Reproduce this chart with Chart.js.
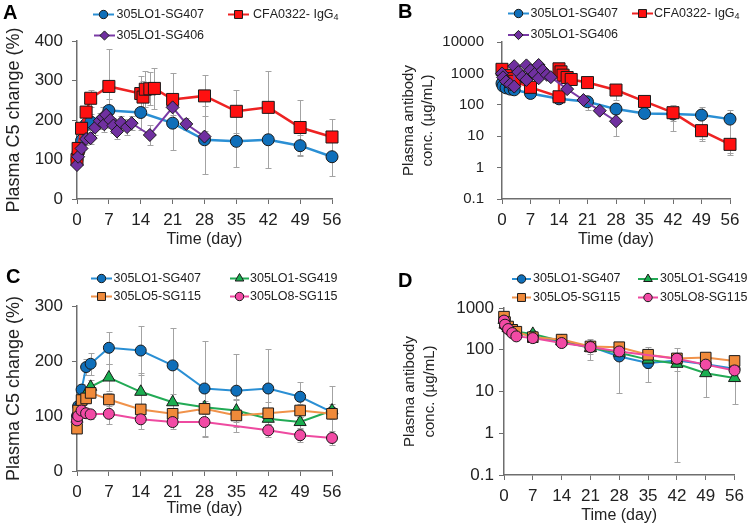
<!DOCTYPE html>
<html><head><meta charset="utf-8">
<script src="https://cdn.jsdelivr.net/npm/chart.js@4/dist/chart.umd.min.js"></script>
<style>
html,body{margin:0;padding:0;background:#fff;}
#wrap{position:relative;width:750px;height:528px;overflow:hidden;}
canvas{position:absolute;}
</style></head><body>
<div id="wrap">
<canvas id="cA" width="375" height="264" style="left:0;top:0"></canvas>
<canvas id="cB" width="375" height="264" style="left:375px;top:0"></canvas>
<canvas id="cC" width="375" height="264" style="left:0;top:264px"></canvas>
<canvas id="cD" width="375" height="264" style="left:375px;top:264px"></canvas>
</div>
<script>
// ---------------- DATA ----------------
const xTicks = [0,7,14,21,28,35,42,49,56];
const yTicksA = [0,100,200,300,400];
const yTicksC = [0,100,200,300];
const yTicksB = [0.1,1,10,100,1000,10000];
const yTicksD = [0.1,1,10,100,1000];
const panelLetters = ['A','B','C','D'];
const namesTop = ['305LO1-SG407','CFA0322- IgG₄','305LO1-SG406'];
const namesBottom = ['305LO1-SG407','305LO1-SG419','305LO5-SG115','305LO8-SG115'];
const xTitle = 'Time (day)';
const yTitleC5 = 'Plasma C5 change (%)';
const yTitlePK = ['Plasma antibody','conc. (µg/mL)'];

// Panel A / C : 305LO1-SG407 C5 change
const sg407C5_day = [0,0.25,1,2,3,7,14,21,28,35,42,49,56];
const sg407C5_val = [100,118,148,189,195,224,219,192,150,146,150,135,107];
const sg407C5_err = [0,6,10,14,20,29,45,68,86,66,72,27,48];
// Panel A : CFA0322-IgG4
const cfaC5_day = [0,0.25,1,2,3,7,14,14.5,15,16,17,21,28,35,42,49,56];
const cfaC5_val = [100,128,179,220,255,285,267,258,278,279,280,252,261,222,232,181,157];
const cfaC5_err = [0,8,12,15,22,95,45,40,45,42,52,67,52,54,92,70,45];
// Panel A : 305LO1-SG406
const sg406C5_day = [0,0.25,1,2,3,4,5,5.7,6,6.4,7.3,8,8.8,9.7,11,12,16,21,24,28];
const sg406C5_val = [86,107,128,152,154,181,198,207,189,213,200,186,171,193,182,192,162,232,190,158];
const sg406C5_err = [5,8,10,15,15,18,20,25,20,22,20,18,20,18,20,18,25,20,15,15];

// Panel B : PK
const sg407PK_day = [0,0.25,1,2,3,7,14,21,28,35,42,49,56];
const sg407PK_val = [480,395,346,316,300,230,155,125,73,53,51,47,35];
const sg407PK_err = [0,0,0,0,0,30,25,55,40,15,20,40,32];
const cfaPK_day = [0,1,2,3,7,14,14,14.5,15,16,17,21,28,35,42,49,56];
const cfaPK_val = [1350,850,680,560,360,180,1400,1120,880,740,640,510,295,128,56,15,5.5];
const cfaPK_err = [0,0,0,0,0,20,0,0,0,0,0,0,150,60,41,7,3];
const sg406PK_day = [0,0.25,1,2,3,3,4,5,6,6,7,8,9,9,10,11,12,16,20,24,28];
const sg406PK_val = [1000,750,550,450,380,1700,1100,780,620,1800,1260,950,700,1850,1260,900,760,316,142,65,30];
const sg406PK_err = [0,0,0,0,0,0,0,0,0,0,0,0,0,0,0,0,0,0,0,0,20];

// Panel C : C5 change (others)
const sg419C5_day = [0,1,2,3,7,14,21,28,35,42,49,56];
const sg419C5_val = [95,128,140,153,170,144,125,116,110,95,89,110];
const sg419C5_err = [0,8,10,12,25,35,15,12,20,12,10,12];
const lo5C5_day = [0,0.25,1,2,3,7,14,21,28,35,42,49,56];
const lo5C5_val = [77,110,129,132,142,130,112,104,113,101,105,110,104];
const lo5C5_err = [0,8,10,8,10,12,10,10,10,30,20,12,10];
const lo8C5_day = [0,0.25,1,2,3,7,14,21,28,42,49,56];
const lo8C5_val = [92,100,110,105,103,104,94,89,89,74,65,60];
const lo8C5_err = [0,6,8,8,8,18,18,12,27,12,12,12];

// Panel D : PK
const pkD_day = [0,0.25,1,2,3,7,14,21,28,35,42,49,56];
const sg407D_val = [480,380,320,280,250,215,150,120,69,48,55,45,35];
const sg407D_err = [0,0,0,0,0,20,20,30,60,31,54.8,15,10];
const sg419D_val = [520,400,330,290,270,240,160,110,85,58,46,27.5,21];
const sg419D_err = [0,0,0,0,0,20,20,30,20,15,15,20,16];
const lo5D_val = [620,460,360,300,270,200,175,120,115,76,62,65,54];
const lo5D_err = [0,0,0,0,0,20,20,20,15,39,20,15,10];
const lo8D_day = [0,0.25,1,2,3,7,14,21,28,42,49,56];
const lo8D_val = [500,398,313,251,209,190,145,116,91,61,44,32];
const lo8D_err = [0,0,0,0,0,15,15,60,20,15,10,8];

// ---------------- STYLE ----------------
const FF = "'Liberation Sans', Arial, Helvetica, sans-serif";
Chart.defaults.font.family = FF;
Chart.defaults.color = '#222';
const ST = {
  blue:   {line:'#2a8fd4', fill:'#0f6fba'},
  red:    {line:'#ee2222', fill:'#ff1010'},
  purple: {line:'#7a3aa6', fill:'#7030a0'},
  green:  {line:'#22aa55', fill:'#1aae50'},
  orange: {line:'#f0924a', fill:'#f08a3a'},
  pink:   {line:'#ee4aa0', fill:'#f24aa5'}
};
const AXIS = '#6e6e6e';

function pts(xs, ys){ return xs.map((x,i)=>({x:x, y:ys[i]})); }
function series(name, xs, ys, es, c, shape, r, order, lw){
  return {label:name, data:pts(xs,ys), errors:es, borderColor:c.line, borderWidth:lw||2,
    backgroundColor:c.fill, pointStyle:shape, pointRadius:r, pointHoverRadius:r,
    pointBackgroundColor:c.fill, pointBorderColor:'#1a1a1a', pointBorderWidth:1,
    tension:0, clip:false, fill:false, order:order, legendShape:shape};
}

// ---------------- PLUGINS ----------------
const errorBars = {
  id:'errorBars',
  beforeDatasetsDraw(chart){
    const ctx = chart.ctx, xs = chart.scales.x, ys = chart.scales.y;
    const isLog = ys.type === 'logarithmic';
    ctx.save(); ctx.strokeStyle = '#a3a3a3'; ctx.lineWidth = 1;
    chart.data.datasets.forEach(ds=>{
      if(!ds.errors) return;
      ds.data.forEach((p,i)=>{
        const e = ds.errors[i]; if(!e) return;
        const px = Math.round(xs.getPixelForValue(p.x)) + 0.5;
        let lo = p.y - e, hi = p.y + e, loCap = true;
        if(isLog){ if(lo <= ys.min){ lo = ys.min; loCap = false; } }
        else if(lo < ys.min){ lo = ys.min; loCap = false; }
        const y1 = Math.round(ys.getPixelForValue(hi)) + 0.5, y2 = Math.round(ys.getPixelForValue(lo)) + 0.5;
        ctx.beginPath();
        ctx.moveTo(px, y1); ctx.lineTo(px, y2);
        ctx.moveTo(px-3, y1); ctx.lineTo(px+3, y1);
        if(loCap){ ctx.moveTo(px-3, y2); ctx.lineTo(px+3, y2); }
        ctx.stroke();
      });
    });
    ctx.restore();
  }
};

function drawMarker(ctx, shape, x, y, r, fill){
  ctx.beginPath();
  if(shape==='circle'){ ctx.arc(x,y,r,0,Math.PI*2); }
  else if(shape==='rect'){ const s=r*Math.SQRT1_2; ctx.rect(x-s,y-s,2*s,2*s); }
  else if(shape==='rectRot'){ ctx.moveTo(x-r,y); ctx.lineTo(x,y-r); ctx.lineTo(x+r,y); ctx.lineTo(x,y+r); ctx.closePath(); }
  else if(shape==='triangle'){
    let a=0; ctx.moveTo(x+Math.sin(a)*r, y-Math.cos(a)*r);
    a+=2*Math.PI/3; ctx.lineTo(x+Math.sin(a)*r, y-Math.cos(a)*r);
    a+=2*Math.PI/3; ctx.lineTo(x+Math.sin(a)*r, y-Math.cos(a)*r); ctx.closePath();
  }
  ctx.fillStyle=fill; ctx.fill(); ctx.lineWidth=1; ctx.strokeStyle='#1a1a1a'; ctx.stroke();
}
const SUB = '₀₁₂₃₄₅₆₇₈₉';
function drawRich(ctx, text, x, y, size){
  let cx = x;
  for(const ch of text){
    const k = SUB.indexOf(ch);
    if(k >= 0){
      ctx.font = (size*0.72)+'px '+FF;
      ctx.fillText(String(k), cx, y + size*0.28);
      cx += ctx.measureText(String(k)).width;
    } else {
      ctx.font = size+'px '+FF;
      ctx.fillText(ch, cx, y);
      cx += ctx.measureText(ch).width;
    }
  }
}
const customLegend = {
  id:'customLegend',
  afterDraw(chart, args, opts){
    const ctx = chart.ctx; ctx.save();
    ctx.textBaseline = 'middle'; ctx.textAlign = 'left'; ctx.fillStyle = '#222';
    (opts.items||[]).forEach(it=>{
      const ds = chart.data.datasets[it.ds];
      ctx.strokeStyle = ds.borderColor; ctx.lineWidth = 2;
      ctx.beginPath(); ctx.moveTo(it.x1, it.y); ctx.lineTo(it.x2, it.y); ctx.stroke();
      drawMarker(ctx, ds.legendShape, (it.x1+it.x2)/2, it.y, it.r, ds.pointBackgroundColor);
      ctx.fillStyle = '#222';
      drawRich(ctx, ds.label, it.tx, it.y, opts.size);
    });
    if(opts.letter){
      ctx.font = 'bold '+opts.letter.size+'px '+FF;
      ctx.fillStyle = '#000'; ctx.textBaseline='middle';
      ctx.fillText(opts.letter.text, opts.letter.x, opts.letter.y);
    }
    ctx.restore();
  }
};

// ---------------- BUILDER ----------------
function makeChart(id, cfg){
  const isLog = cfg.log;
  return new Chart(document.getElementById(id), {
    type:'line',
    data:{datasets:cfg.datasets},
    options:{
      responsive:false, animation:false, devicePixelRatio:1,
      events:[],
      layout:{padding:{left:0, top:cfg.area.top, right:375-cfg.area.right, bottom:0}},
      plugins:{legend:{display:false}, tooltip:{enabled:false}, title:{display:false},
        customLegend:{items:cfg.legend, size:12.5, letter:cfg.letter}},
      scales:{
        x:{type:'linear', min:0, max:56,
          afterBuildTicks:s=>{ s.ticks = xTicks.map(v=>({value:v})); },
          afterFit:s=>{ s.height = 264 - cfg.area.bottom; },
          ticks:{autoSkip:false, maxRotation:0, padding:cfg.xPad, color:'#222', font:{size:cfg.xFont}},
          grid:{drawOnChartArea:false, drawTicks:true, tickLength:5, color:AXIS, lineWidth:1},
          border:{display:true, color:AXIS, width:1.5},
          title:{display:true, text:xTitle, color:'#222', font:{size:16}, padding:{top:0,bottom:cfg.xTitlePad}}
        },
        y:{type:isLog?'logarithmic':'linear', min:cfg.yMin, max:cfg.yMax,
          afterBuildTicks:s=>{ s.ticks = cfg.yTicks.map(v=>({value:v})); },
          afterFit:s=>{ s.width = cfg.area.left; },
          ticks:{autoSkip:false, padding:cfg.yPad, color:'#222', font:{size:cfg.yFont},
            callback:(v)=>String(v)},
          grid:{drawOnChartArea:false, drawTicks:true, tickLength:5, color:AXIS, lineWidth:1},
          border:{display:true, color:AXIS, width:1.5},
          title:{display:true, text:cfg.yTitle, color:'#222', font:{size:cfg.yTitleFont, lineHeight:cfg.yTitleLH},
            padding:{top:cfg.yTitlePad, bottom:0}}
        }
      }
    },
    plugins:[errorBars, customLegend]
  });
}

// Panel A
makeChart('cA', {
  area:{left:77, top:41, right:332, bottom:199},
  yMin:0, yMax:400, yTicks:yTicksA, log:false,
  xFont:17, yFont:17, xPad:6, yPad:9, xTitlePad:15, yTitle:yTitleC5, yTitleFont:18, yTitleLH:1.2, yTitlePad:3,
  letter:{text:panelLetters[0], x:3, y:13, size:20},
  datasets:[
    series(namesTop[0], sg407C5_day, sg407C5_val, sg407C5_err, ST.blue, 'circle', 6, 3, 2.5),
    series(namesTop[1], cfaC5_day, cfaC5_val, cfaC5_err, ST.red, 'rect', 8.5, 2, 2.5),
    series(namesTop[2], sg406C5_day, sg406C5_val, sg406C5_err, ST.purple, 'rectRot', 6.5, 1, 2)
  ],
  legend:[
    {ds:0, x1:93, x2:114, y:14.5, tx:116.5, r:4.2},
    {ds:1, x1:228, x2:249, y:14.5, tx:253, r:5.6},
    {ds:2, x1:94, x2:115, y:35.5, tx:116.5, r:4.6}
  ]
});

// Panel B
makeChart('cB', {
  area:{left:127, top:42, right:355, bottom:199},
  yMin:0.1, yMax:10000, yTicks:yTicksB, log:true,
  xFont:17, yFont:15, xPad:6, yPad:13, xTitlePad:15, yTitle:yTitlePK, yTitleFont:15, yTitleLH:1.3, yTitlePad:24,
  letter:{text:panelLetters[1], x:23, y:12.5, size:20},
  datasets:[
    series(namesTop[0], sg407PK_day, sg407PK_val, sg407PK_err, ST.blue, 'circle', 6, 3, 2.5),
    series(namesTop[1], cfaPK_day, cfaPK_val, cfaPK_err, ST.red, 'rect', 8.5, 2, 2.5),
    series(namesTop[2], sg406PK_day, sg406PK_val, sg406PK_err, ST.purple, 'rectRot', 6.5, 1, 2)
  ],
  legend:[
    {ds:0, x1:133, x2:154, y:13.5, tx:155.5, r:4.2},
    {ds:1, x1:257, x2:278, y:13.5, tx:279, r:5.6},
    {ds:2, x1:133, x2:154, y:35, tx:155.5, r:4.6}
  ]
});

// Panel C
makeChart('cC', {
  area:{left:77, top:42, right:332, bottom:207},
  yMin:0, yMax:300, yTicks:yTicksC, log:false,
  xFont:17, yFont:17, xPad:6, yPad:9, xTitlePad:9.5, yTitle:yTitleC5, yTitleFont:18, yTitleLH:1.2, yTitlePad:3,
  letter:{text:panelLetters[2], x:6, y:13.5, size:20},
  datasets:[
    series(namesBottom[0], sg407C5_day, sg407C5_val, sg407C5_err, ST.blue, 'circle', 5.5, 4, 2),
    series(namesBottom[1], sg419C5_day, sg419C5_val, sg419C5_err, ST.green, 'triangle', 7, 3, 2),
    series(namesBottom[2], lo5C5_day, lo5C5_val, lo5C5_err, ST.orange, 'rect', 7.5, 2, 2),
    series(namesBottom[3], lo8C5_day, lo8C5_val, lo8C5_err, ST.pink, 'circle', 5.5, 1, 2)
  ],
  legend:[
    {ds:0, x1:91, x2:112, y:14.5, tx:113.5, r:4.2},
    {ds:1, x1:230, x2:249, y:14.5, tx:250, r:5},
    {ds:2, x1:91, x2:112, y:32.5, tx:113.5, r:5.6},
    {ds:3, x1:230, x2:249, y:32.5, tx:250, r:4.2}
  ]
});

// Panel D
makeChart('cD', {
  area:{left:129, top:44, right:363, bottom:211},
  yMin:0.1, yMax:1000, yTicks:yTicksD, log:true,
  xFont:17, yFont:17, xPad:6, yPad:5, xTitlePad:3, yTitle:yTitlePK, yTitleFont:15, yTitleLH:1.33, yTitlePad:24.5,
  letter:{text:panelLetters[3], x:23, y:17.5, size:20},
  datasets:[
    series(namesBottom[0], pkD_day, sg407D_val, sg407D_err, ST.blue, 'circle', 5.5, 4, 2),
    series(namesBottom[1], pkD_day, sg419D_val, sg419D_err, ST.green, 'triangle', 7, 3, 2),
    series(namesBottom[2], pkD_day, lo5D_val, lo5D_err, ST.orange, 'rect', 7.5, 2, 2),
    series(namesBottom[3], lo8D_day, lo8D_val, lo8D_err, ST.pink, 'circle', 5.5, 1, 2)
  ],
  legend:[
    {ds:0, x1:137, x2:156, y:15, tx:158, r:4.2},
    {ds:1, x1:263, x2:283, y:15, tx:285, r:5},
    {ds:2, x1:137, x2:156, y:33.5, tx:158, r:5.6},
    {ds:3, x1:263, x2:283, y:33.5, tx:285, r:4.2}
  ]
});
</script>
</body></html>
